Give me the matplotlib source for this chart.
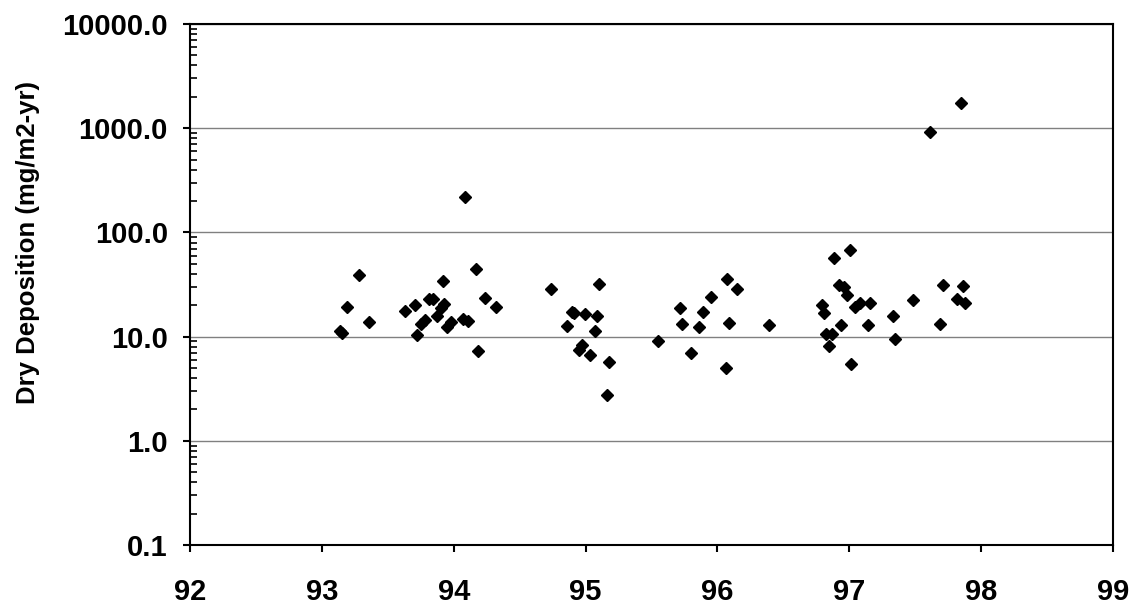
import matplotlib.pyplot as plt
from matplotlib.ticker import FixedLocator, LogLocator, NullFormatter

plt.rcParams['font.family'] = ['Liberation Sans', 'DejaVu Sans']
plt.rcParams['font.weight'] = 'bold'

# year (decimal) and dry deposition (mg/m2-yr)
year = [93.14, 93.155, 93.19, 93.28, 93.36, 93.63, 93.71, 93.72, 93.75, 93.78,
        93.81, 93.84, 93.875, 93.90, 93.92, 93.93, 93.95, 93.98, 94.07, 94.085,
        94.105, 94.166, 94.186, 94.24, 94.32,
        94.74, 94.856, 94.894, 94.914, 94.95, 94.97, 94.995, 95.03, 95.073, 95.088,
        95.10, 95.16, 95.18,
        95.546, 95.72, 95.735, 95.796, 95.86, 95.89, 95.95, 96.065, 96.07, 96.09,
        96.145, 96.39,
        96.794, 96.81, 96.826, 96.85, 96.87, 96.885, 96.92, 96.94, 96.96, 96.98,
        97.004, 97.017, 97.04, 97.08, 97.14, 97.155, 97.33, 97.35, 97.48, 97.615,
        97.69, 97.71, 97.82, 97.85, 97.86, 97.88]
dep = [11.4, 10.9, 19.3, 38.8, 13.9, 17.8, 20.0, 10.3, 13.3, 14.5,
       23.0, 23.0, 15.7, 18.9, 33.8, 20.6, 12.5, 13.7, 14.8, 218,
       14.0, 44.8, 7.2, 23.7, 19.4,
       28.9, 12.6, 17.3, 17.0, 7.4, 8.3, 16.4, 6.6, 11.2, 15.8,
       31.8, 2.73, 5.7,
       9.1, 19.0, 13.1, 7.0, 12.5, 17.3, 24.2, 5.0, 36.1, 13.4,
       28.9, 12.9,
       20.3, 17.0, 10.5, 8.07, 10.5, 56.2, 31.6, 12.95, 29.8, 25.3,
       68.2, 5.5, 19.1, 21.1, 12.85, 20.9, 15.8, 9.5, 22.7, 912,
       13.3, 31.6, 22.8, 1728, 30.3, 21.1]

fig = plt.figure(figsize=(11.33, 6.05), dpi=100)
ax = fig.add_axes([0.1677, 0.0992, 0.8146, 0.8611])

ax.plot(year, dep, 'D', color='black', markersize=6, zorder=3)

ax.set_yscale('log')
ax.set_ylim(0.1, 10000)
ax.set_xlim(92, 99)
ax.set_xticks(range(92, 100))
ax.set_xticklabels([str(v) for v in range(92, 100)])
yt = [0.1, 1, 10, 100, 1000, 10000]
ax.yaxis.set_major_locator(FixedLocator(yt))
ax.set_yticklabels(['%.1f' % v for v in yt])
ax.yaxis.set_minor_locator(LogLocator(base=10, subs=range(2, 10)))
ax.yaxis.set_minor_formatter(NullFormatter())

ax.grid(axis='y', which='major', color='#808080', linewidth=1)
ax.set_axisbelow(True)
for s in ax.spines.values():
    s.set_linewidth(1.5)
    s.set_color('black')

ax.tick_params(axis='both', which='major', direction='out', length=5, width=1.5,
               labelsize=21)
ax.tick_params(axis='y', which='major', pad=11)
ax.tick_params(axis='x', which='major', pad=19)
ax.tick_params(axis='y', which='minor', direction='in', length=5, width=1.2)
ax.tick_params(axis='x', which='minor', bottom=False)

ax.set_ylabel('Dry Deposition (mg/m2-yr)', fontsize=18.5, fontweight='bold')
ax.yaxis.set_label_coords(-0.163, 0.58)

fig.savefig('out.png', dpi=100)
